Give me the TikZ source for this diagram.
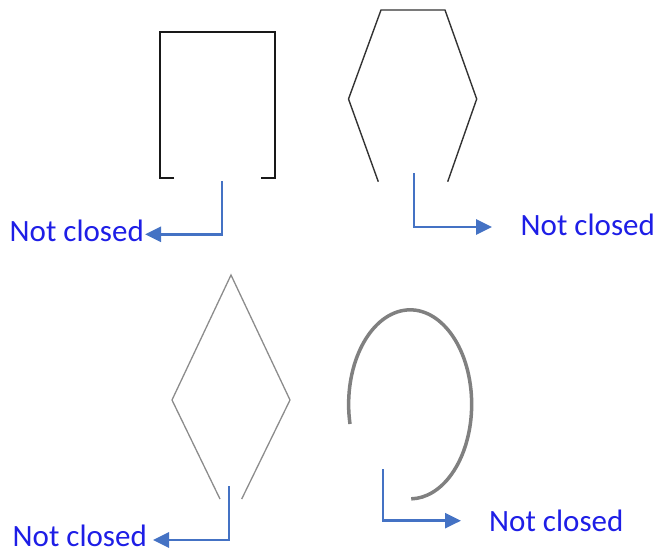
\documentclass[tikz,border=0pt]{standalone}
\usepackage{fontspec}
\setmainfont{Carlito}
\usetikzlibrary{arrows.meta}
\definecolor{lblblue}{RGB}{30,30,230}
\definecolor{arrblue}{RGB}{68,114,196}
\begin{document}
\begin{tikzpicture}[x=1pt,y=-1pt,
  lbl/.style={inner sep=0pt,text height=14pt,text depth=0pt,text=lblblue,
    font=\fontsize{31}{37}\selectfont},
  arr/.style={draw=arrblue,line width=2.7pt,-{Triangle[length=16pt,width=15pt]}},
  openbox/.style={draw=black!90,line width=2pt},
  hexline/.style={draw=black!80,line width=1.4pt},
  diamline/.style={draw=black!45,line width=1.3pt},
  ovalline/.style={draw=black!50,line width=3.5pt}]
\useasboundingbox (0,0) rectangle (659,552);

% open rectangle
\draw[openbox] (174,178) -- (160,178) -- (160,32) -- (275,32) -- (275,178) -- (261,178);

% open hexagon
\draw[hexline] (378.3,181.7) -- (348.5,99) -- (381,10) -- (445,10) -- (476.7,99) -- (447.7,181.7);

% open diamond
\draw[diamline] (220,499) -- (172,400) -- (231,275) -- (290,400) -- (241.7,499);

% open ellipse
\draw[ovalline] (350,424) arc[start angle=168,end angle=449,x radius=61.5,y radius=94.5];

% connector ends
\coordinate (s1) at (222,181);
\coordinate (t1) at (145,234.3);
\coordinate (s2) at (414,173);
\coordinate (t2) at (492,227);
\coordinate (s3) at (229,486);
\coordinate (t3) at (153,540);
\coordinate (s4) at (383,469);
\coordinate (t4) at (461,520.7);

% labels
\node[lbl,anchor=base east] (l1) at (144,241) {Not closed};
\node[lbl,anchor=base west] (l2) at (520.5,235) {Not closed};
\node[lbl,anchor=base east] (l3) at (147,546) {Not closed};
\node[lbl,anchor=base west] (l4) at (489,531) {Not closed};

% connectors
\draw[arr] (s1) |- (t1);
\draw[arr] (s2) |- (t2);
\draw[arr] (s3) |- (t3);
\draw[arr] (s4) |- (t4);
\end{tikzpicture}
\end{document}
